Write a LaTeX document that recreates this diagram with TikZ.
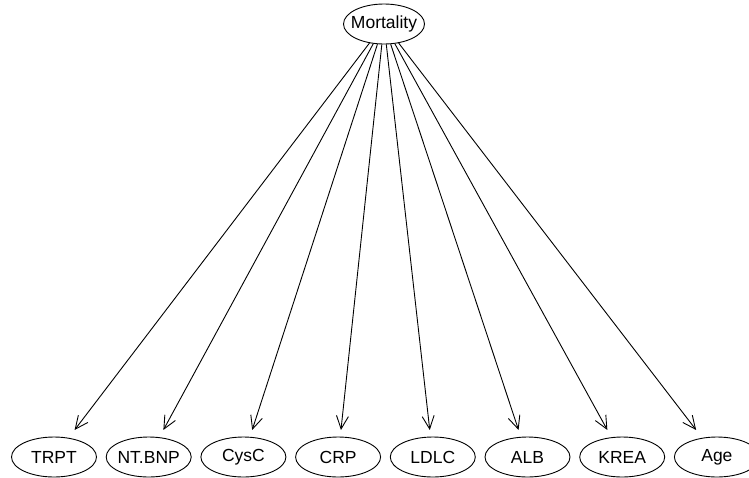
\documentclass[tikz,border=0pt]{standalone}
\usepackage{fontspec}
\setmainfont{Liberation Sans}
\usetikzlibrary{shapes.geometric,arrows.meta,calc}
\begin{document}
\begin{tikzpicture}[x=1pt,y=-1pt,
  var/.style={draw,ellipse,line width=0.9pt,inner xsep=-6pt,inner ysep=0pt,
    minimum width=85pt,minimum height=40pt,
    font=\fontsize{17.5}{20}\selectfont},
  edge/.style={draw,line width=0.9pt,-{Straight Barb[length=13pt,width=12pt,line width=0.9pt]}}]
  \useasboundingbox (0,0) rectangle (749,477);
  \clip (0,0) rectangle (749,477);
  % parent node
  \node[var,minimum width=81pt] (mort) at (384,24) {Mortality};
  % child nodes along the bottom row
  \foreach \name/\lab [count=\i from 0] in
    {trpt/TRPT, ntbnp/NT.BNP, cysc/CysC, crp/CRP, ldlc/LDLC, alb/ALB, krea/KREA, age/Age}{
    \node[var] (\name) at ({54+94.7*\i},457) {\lab};
    \coordinate (tip-\name) at ($(mort.center)!0.9376!(\name.center)$);
    \draw[edge] (mort) -- (tip-\name);
  }
\end{tikzpicture}
\end{document}
